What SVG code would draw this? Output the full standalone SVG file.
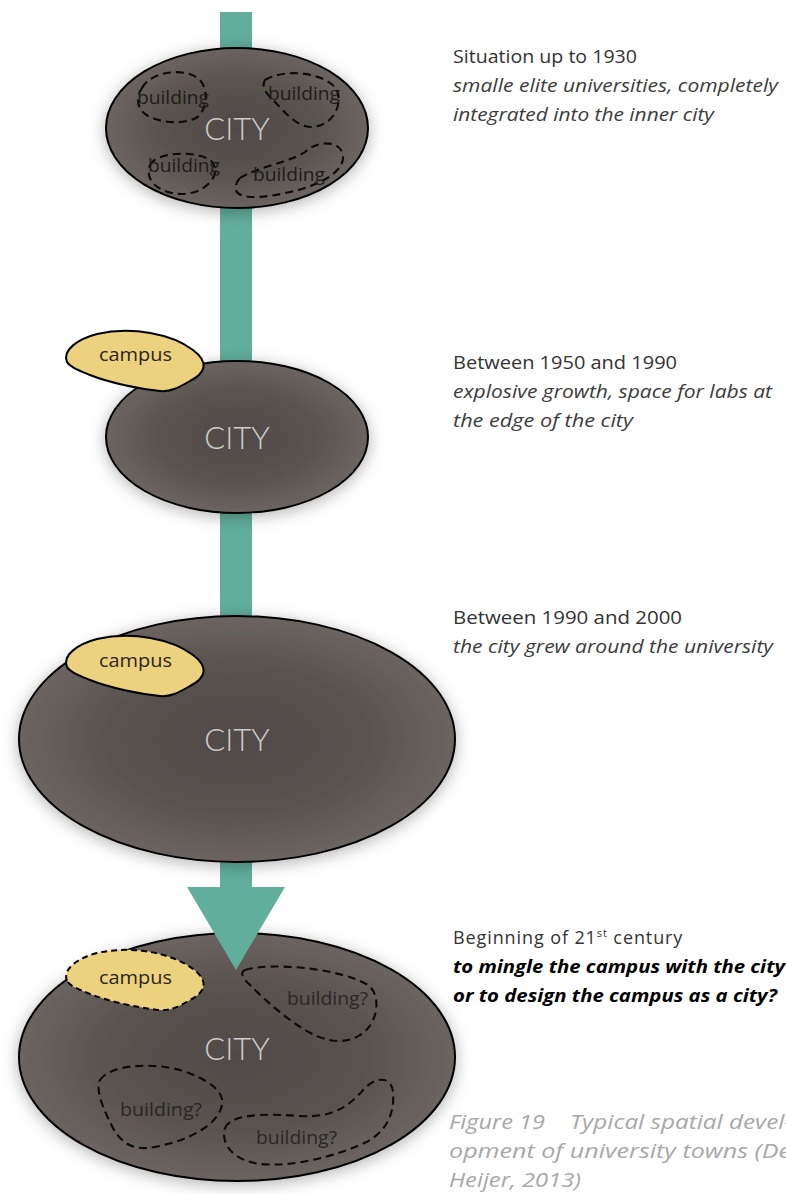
<svg xmlns="http://www.w3.org/2000/svg" width="786" height="1194" viewBox="0 0 786 1194">
<style>
.city{fill:url(#cg);stroke:#000;stroke-width:2;filter:url(#sh)}
.citylbl{font-family:Lato,"Open Sans",sans-serif;font-weight:300;font-size:31px;fill:#cfcdcb;text-anchor:middle}
.bld{fill:none;stroke:#0a0a0a;stroke-width:2.1;stroke-dasharray:8 5}
.bldlbl{font-family:"Open Sans",sans-serif;font-size:18px;fill:#1e1c1b}
.bldq{font-family:"Open Sans",sans-serif;font-size:18px;fill:#2a2726}
.campus{fill:#ecd17f;stroke:#000;stroke-width:2}
.campusd{fill:#ecd17f;stroke:#000;stroke-width:2;stroke-dasharray:6 4}
.camplbl{font-family:"Open Sans",sans-serif;font-size:18px;fill:#2a2620}
.t{font-family:"Open Sans",sans-serif;font-size:18px;fill:#333}
.ti{font-family:"Open Sans",sans-serif;font-size:18px;font-style:italic;fill:#3c3c3c}
.tb{font-family:"Open Sans",sans-serif;font-size:18px;font-style:italic;font-weight:bold;fill:#000}
.cap{font-family:"Open Sans",sans-serif;font-size:20px;font-style:italic;fill:#a8a8a8}
</style>
<defs>
<radialGradient id="cg" cx="0.5" cy="0.5" r="0.5">
<stop offset="0" stop-color="#504a48"/>
<stop offset="0.6" stop-color="#59534f"/>
<stop offset="1" stop-color="#6b6461"/>
</radialGradient>
<filter id="sh" x="-20%" y="-20%" width="140%" height="140%">
<feDropShadow dx="0" dy="3" stdDeviation="8" flood-color="#000" flood-opacity="0.3"/>
</filter>
</defs>
<rect width="786" height="1194" fill="#fff"/>
<g id="connectors">
<rect x="220" y="12" width="32" height="878" fill="#62ae9c"/>
</g>
<g id="city1">
<ellipse class="city" cx="237" cy="128" rx="131" ry="80"/>
<text class="citylbl" x="237" y="140">CITY</text>
<path class="bld" d="M142,88 C150,72 185,66 200,80 C210,92 206,112 196,118 C180,126 150,122 141,110 C136,102 138,94 142,88 Z"/>
<text class="bldlbl" x="137" y="104" textLength="72" lengthAdjust="spacingAndGlyphs">building</text>
<path class="bld" d="M265,80 C285,68 325,72 337,90 C343,106 332,126 312,127 C296,127 285,112 275,102 C268,95 260,88 265,80 Z"/>
<text class="bldlbl" x="268" y="100" textLength="72" lengthAdjust="spacingAndGlyphs">building</text>
<path class="bld" d="M150,165 C156,152 195,150 210,160 C222,170 212,186 195,192 C178,197 160,192 152,182 C148,176 148,170 150,165 Z"/>
<text class="bldlbl" x="148" y="172" textLength="72" lengthAdjust="spacingAndGlyphs">building</text>
<path class="bld" d="M240,178 C255,168 290,162 305,152 C318,140 340,140 343,155 C345,172 320,185 290,192 C265,198 238,200 236,190 C235,185 237,181 240,178 Z"/>
<text class="bldlbl" x="253" y="181" textLength="72" lengthAdjust="spacingAndGlyphs">building</text>
</g>
<g id="city2">
<ellipse class="city" cx="237" cy="437" rx="131" ry="76"/>
<text class="citylbl" x="237" y="449">CITY</text>
</g>
<g id="campus2">
<path class="campus" d="M67,362 C62,350 78,339 97,334 C132,326 172,334 193,350 C209,362 206,373 190,381 C178,388 170,392 160,391 C140,389 110,383 90,375 C78,370 70,367 67,362 Z"/>
<text class="camplbl" x="99" y="361" textLength="73" lengthAdjust="spacingAndGlyphs">campus</text>
</g>
<g id="city3">
<ellipse class="city" cx="237" cy="739" rx="218" ry="123"/>
<text class="citylbl" x="237" y="751">CITY</text>
</g>
<g id="campus3">
<path class="campus" transform="translate(0,305)" d="M67,362 C62,350 78,339 97,334 C132,326 172,334 193,350 C209,362 206,373 190,381 C178,388 170,392 160,391 C140,389 110,383 90,375 C78,370 70,367 67,362 Z"/>
<text class="camplbl" x="99" y="667" textLength="73" lengthAdjust="spacingAndGlyphs">campus</text>
</g>
<g id="city4">
<ellipse class="city" cx="237" cy="1057" rx="218" ry="124"/>
<text class="citylbl" x="237" y="1060">CITY</text>
<path class="bld" d="M245,970 C270,962 340,968 368,985 C382,995 378,1025 360,1035 C345,1045 325,1042 305,1030 C285,1018 265,1000 250,985 C242,978 240,972 245,970 Z"/>
<text class="bldq" x="287" y="1005" textLength="81" lengthAdjust="spacingAndGlyphs">building?</text>
<path class="bld" d="M100,1080 C110,1065 150,1062 180,1070 C205,1078 225,1090 222,1105 C218,1125 190,1140 155,1147 C130,1152 118,1140 110,1122 C104,1110 95,1090 100,1080 Z"/>
<text class="bldq" x="120" y="1116" textLength="82" lengthAdjust="spacingAndGlyphs">building?</text>
<path class="bld" d="M225,1128 C230,1115 260,1113 300,1116 C335,1118 350,1105 365,1088 C378,1075 392,1078 393,1092 C395,1115 385,1135 360,1145 C330,1158 290,1167 260,1164 C235,1161 220,1145 225,1128 Z"/>
<text class="bldq" x="256" y="1144" textLength="81" lengthAdjust="spacingAndGlyphs">building?</text>
</g>
<g id="arrowhead">
<polygon points="187,887 285,887 236,970" fill="#62ae9c"/>
</g>
<g id="campus4">
<path class="campusd" transform="translate(0,619)" d="M67,362 C62,350 78,339 97,334 C132,326 172,334 193,350 C209,362 206,373 190,381 C178,388 170,392 160,391 C140,389 110,383 90,375 C78,370 70,367 67,362 Z"/>
<text class="camplbl" x="99" y="984" textLength="73" lengthAdjust="spacingAndGlyphs">campus</text>
</g>
<g id="labels">
<text class="t" x="453" y="63" textLength="184" lengthAdjust="spacingAndGlyphs">Situation up to 1930</text>
<text class="ti" x="453" y="92" textLength="325" lengthAdjust="spacingAndGlyphs">smalle elite universities, completely</text>
<text class="ti" x="453" y="121" textLength="261" lengthAdjust="spacingAndGlyphs">integrated into the inner city</text>
<text class="t" x="453" y="369" textLength="224" lengthAdjust="spacingAndGlyphs">Between 1950 and 1990</text>
<text class="ti" x="453" y="398" textLength="319" lengthAdjust="spacingAndGlyphs">explosive growth, space for labs at</text>
<text class="ti" x="453" y="427" textLength="180" lengthAdjust="spacingAndGlyphs">the edge of the city</text>
<text class="t" x="453" y="624" textLength="229" lengthAdjust="spacingAndGlyphs">Between 1990 and 2000</text>
<text class="ti" x="453" y="653" textLength="320" lengthAdjust="spacingAndGlyphs">the city grew around the university</text>
<text class="t" x="453" y="944" letter-spacing="0.9">Beginning of 21<tspan font-size="11" dy="-7">st</tspan><tspan dy="7"> century</tspan></text>
<text class="tb" x="453" y="973" textLength="332" lengthAdjust="spacingAndGlyphs">to mingle the campus with the city</text>
<text class="tb" x="453" y="1002" textLength="324" lengthAdjust="spacingAndGlyphs">or to design the campus as a city?</text>
<text class="cap" x="449" y="1129" textLength="96" lengthAdjust="spacingAndGlyphs">Figure 19</text>
<text class="cap" x="570" y="1129" textLength="222" lengthAdjust="spacingAndGlyphs">Typical spatial devel-</text>
<text class="cap" x="449" y="1158" textLength="342" lengthAdjust="spacingAndGlyphs">opment of university towns (De</text>
<text class="cap" x="449" y="1187" textLength="132" lengthAdjust="spacingAndGlyphs">Heijer, 2013)</text>
</g>
</svg>
